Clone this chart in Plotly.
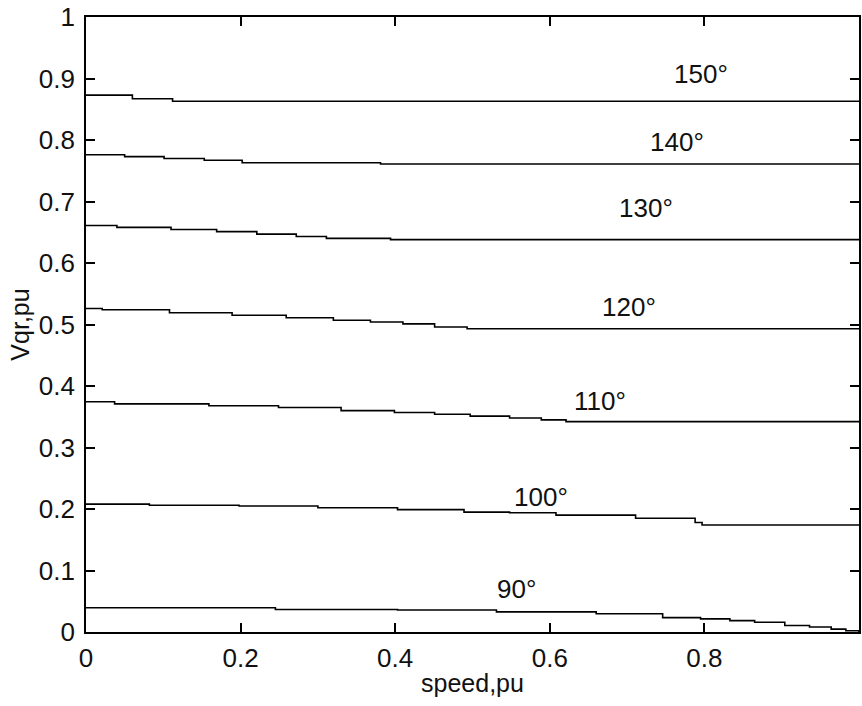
import plotly.graph_objects as go

# Vqr (pu) versus rotor speed (pu) for several angles; each curve is a staircase
speed_150 = [0, 0.060, 0.112, 1.0]
vqr_150 = [0.873, 0.867, 0.863, 0.862]

speed_140 = [0, 0.050, 0.101, 0.153, 0.202, 0.381, 1.0]
vqr_140 = [0.776, 0.773, 0.770, 0.767, 0.763, 0.761, 0.761]

speed_130 = [0, 0.040, 0.110, 0.169, 0.221, 0.272, 0.311, 0.394, 1.0]
vqr_130 = [0.661, 0.658, 0.6545, 0.651, 0.647, 0.643, 0.640, 0.638, 0.638]

speed_120 = [0, 0.021, 0.108, 0.189, 0.259, 0.320, 0.368, 0.410, 0.451, 0.493, 1.0]
vqr_120 = [0.526, 0.524, 0.519, 0.515, 0.511, 0.507, 0.504, 0.501, 0.496, 0.493, 0.493]

speed_110 = [0, 0.037, 0.159, 0.249, 0.330, 0.399, 0.451, 0.497, 0.548, 0.589, 0.621, 1.0]
vqr_110 = [0.3745, 0.371, 0.368, 0.365, 0.360, 0.357, 0.354, 0.351, 0.348, 0.345, 0.342, 0.342]

speed_100 = [0, 0.082, 0.198, 0.300, 0.403, 0.489, 0.548, 0.608, 0.711, 0.788, 0.797, 1.0]
vqr_100 = [0.208, 0.206, 0.205, 0.202, 0.199, 0.195, 0.194, 0.190, 0.185, 0.178, 0.174, 0.174]

speed_90 = [0, 0.245, 0.403, 0.531, 0.660, 0.746, 0.795, 0.833, 0.865, 0.904, 0.936, 0.964, 0.983, 1.0]
vqr_90 = [0.0395, 0.0366, 0.0358, 0.0328, 0.0297, 0.0234, 0.0214, 0.0185, 0.0159, 0.0106, 0.0081, 0.0046, 0.002, 0.0]

curves = [
    (speed_150, vqr_150),
    (speed_140, vqr_140),
    (speed_130, vqr_130),
    (speed_120, vqr_120),
    (speed_110, vqr_110),
    (speed_100, vqr_100),
    (speed_90, vqr_90),
]

# Angle labels and where they sit
angle_labels = ["150°", "140°", "130°", "120°", "110°", "100°", "90°"]
label_x = [0.796, 0.764, 0.725, 0.703, 0.665, 0.589, 0.557]
label_y = [0.907, 0.797, 0.690, 0.528, 0.376, 0.219, 0.070]

x_ticks = [0, 0.2, 0.4, 0.6, 0.8, 1]
y_ticks = [0, 0.1, 0.2, 0.3, 0.4, 0.5, 0.6, 0.7, 0.8, 0.9, 1]

FONT = "Liberation Sans Narrow, Liberation Sans, Arial, sans-serif"

fig = go.Figure()
for xs, ys in curves:
    fig.add_trace(go.Scatter(
        x=xs, y=ys, mode="lines", line=dict(color="black", width=1.6, shape="hv"),
        hoverinfo="skip", showlegend=False,
    ))

for txt, lx, ly in zip(angle_labels, label_x, label_y):
    fig.add_annotation(x=lx, y=ly, text=txt, showarrow=False,
                       font=dict(family=FONT, size=26, color="#111"),
                       xanchor="center", yanchor="middle")

axis_common = dict(
    showgrid=False, zeroline=False, showline=True, linecolor="black", linewidth=1.6,
    mirror="ticks", ticks="inside", ticklen=9, tickwidth=1.5, tickcolor="black",
    tickfont=dict(family=FONT, size=26, color="#111"),
)

fig.update_xaxes(
    range=[0, 1], tickvals=x_ticks, ticktext=[f"{v:g}" for v in x_ticks],
    ticklabelstandoff=2,
    title=dict(text="speed,pu", font=dict(family=FONT, size=25, color="#111"), standoff=2),
    **axis_common,
)
fig.update_yaxes(
    range=[0, 1], tickvals=y_ticks, ticktext=[f"{v:g}" for v in y_ticks],
    ticklabelstandoff=4,
    title=dict(text="Vqr,pu", font=dict(family=FONT, size=25, color="#111"), standoff=2),
    **axis_common,
)

fig.update_layout(
    width=862, height=706,
    margin=dict(l=86, r=1, t=17, b=74),
    paper_bgcolor="white", plot_bgcolor="white",
)

fig.write_html("out.html")
